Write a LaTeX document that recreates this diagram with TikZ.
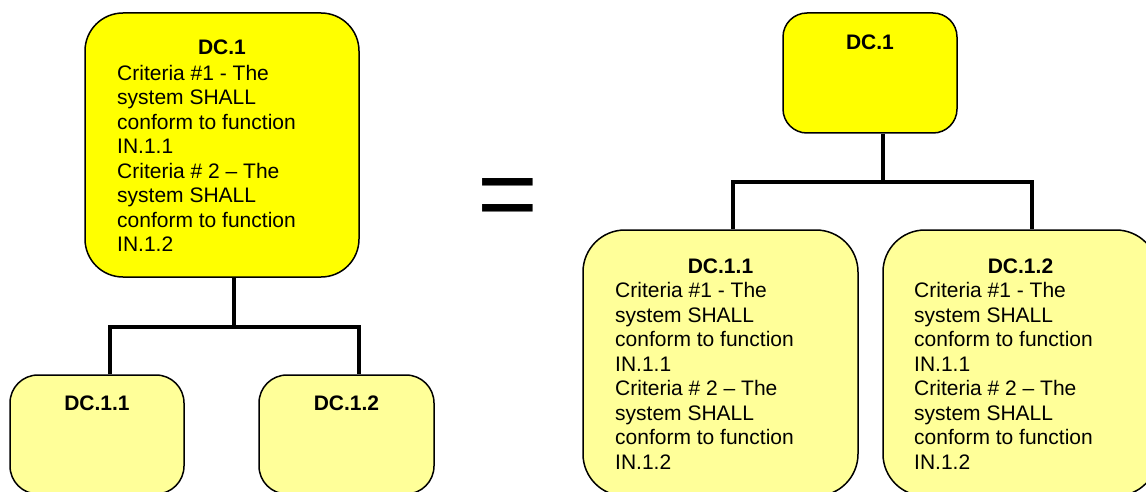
\documentclass[tikz,border=0pt]{standalone}
\usepackage{fontspec}
\setmainfont{Liberation Sans}
\definecolor{hotyellow}{RGB}{255,255,0}
\definecolor{paleyellow}{RGB}{255,255,153}

\begin{document}
\begin{tikzpicture}[x=1pt, y=-1pt,
      box/.style = {draw, line width=1.5pt, inner sep=0pt},
      hot/.style = {box, fill=hotyellow},
      pale/.style = {box, fill=paleyellow},
      link/.style = {line width=3.5pt},
      head/.style = {font=\fontsize{21}{24.5}\selectfont\bfseries, inner sep=0pt, anchor=base},
      body/.style = {font=\fontsize{21}{24.5}\selectfont, align=left, inner sep=0pt, anchor=north west}]
    \useasboundingbox (0,0) rectangle (1146,492);
    \clip (0,0) rectangle (1146,492);
    \node[hot, rounded corners=38pt, minimum width=274pt, minimum height=264pt] (dc) at (222,145) {};
    \node[pale, rounded corners=28pt, minimum width=174pt, minimum height=119pt] (dca) at (97,434.5) {};
    \node[pale, rounded corners=28pt, minimum width=175pt, minimum height=119pt] (dcb) at (346.5,434.5) {};
    \node[head] (dcT) at (222,55) {DC.1};
    \node[body] (dcB) at (117,65) {Criteria \#1 - The\\system SHALL\\conform to function\\IN.1.1\\Criteria \# 2 -- The\\system SHALL\\conform to function\\IN.1.2};
    \node[head] (dcaT) at (97,410.5) {DC.1.1};
    \node[head] (dcbT) at (346.5,410.5) {DC.1.2};
    \coordinate (fork) at (234,327);
    \draw[link] ([xshift=12pt]dc.south) -- (fork);
    \draw[link] ([xshift=13pt]dca.north) |- (fork) -| ([xshift=12.5pt]dcb.north);
    \node[inner sep=0pt, anchor=base, font=\fontsize{104}{104}\selectfont] (eq) at (508,229) {=};
    \node[hot, rounded corners=24pt, minimum width=174pt, minimum height=120pt] (top) at (870,73) {};
    \node[pale, rounded corners=42pt, minimum width=275pt, minimum height=266pt] (topa) at (720.5,363) {};
    \node[pale, rounded corners=42pt, minimum width=275pt, minimum height=266pt] (topb) at (1020.5,363) {};
    \node[head] (topT) at (870,49.5) {DC.1};
    \node[head] (topaT) at (720.5,273) {DC.1.1};
    \node[body] (topaB) at (615,282.5) {Criteria \#1 - The\\system SHALL\\conform to function\\IN.1.1\\Criteria \# 2 -- The\\system SHALL\\conform to function\\IN.1.2};
    \node[head] (topbT) at (1020.5,273) {DC.1.2};
    \node[body] (topbB) at (914,282.5) {Criteria \#1 - The\\system SHALL\\conform to function\\IN.1.1\\Criteria \# 2 -- The\\system SHALL\\conform to function\\IN.1.2};
    \coordinate (forkR) at (883,182);
    \draw[link] ([xshift=13pt]top.south) -- (forkR);
    \draw[link] ([xshift=12.5pt]topa.north) |- (forkR) -| ([xshift=11.5pt]topb.north);
\end{tikzpicture}
\end{document}
